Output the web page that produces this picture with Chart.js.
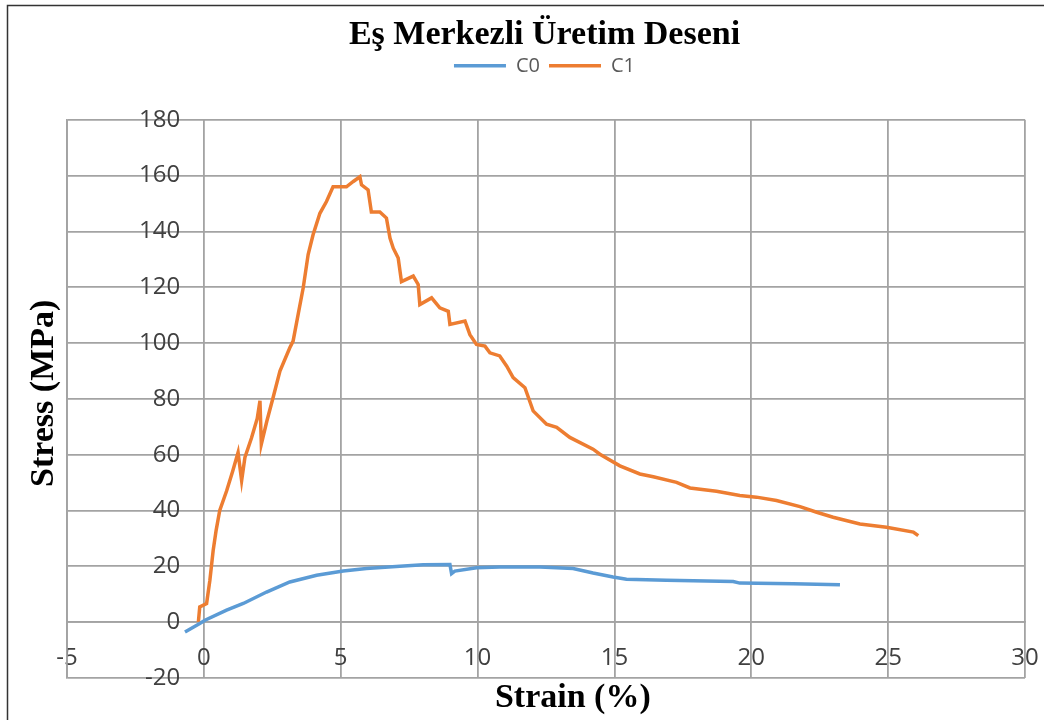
<!DOCTYPE html>
<html>
<head>
<meta charset="utf-8">
<script src="https://cdn.jsdelivr.net/npm/chart.js@4/dist/chart.umd.min.js"></script>
<style>
  html, body { margin: 0; padding: 0; background: #fff; }
  #wrap { width: 1044px; height: 720px; position: relative; }
</style>
</head>
<body>
<div id="wrap"><canvas id="stressChart"></canvas></div>
<script>
// Eş Merkezli Üretim Deseni - gerilme / uzama eğrileri
const chartTitle = 'Eş Merkezli Üretim Deseni';
const xTitle = 'Strain (%)';
const yTitle = 'Stress (MPa)';
const seriesNames = ['C0', 'C1'];
const seriesColors = ['#5B9BD5', '#ED7D31'];

const xTicks = { min: -5, max: 30, step: 5 };
const yTicks = { min: -20, max: 180, step: 20 };

const c0Strain = [-0.69, -0.15, 0.04, 0.83, 1.44, 2.29, 3.14, 4.12, 5.09, 5.94, 7.16, 8.01, 8.99, 9.05, 9.17,
    9.96, 10.81, 12.28, 13.49, 14.22, 14.95, 15.44, 16.9, 19.34, 19.58, 21.53, 23.24];
const c0Stress = [-3.5, -0.5, 0.7, 4.3, 6.7, 10.8, 14.4, 16.8, 18.3, 19.2, 20, 20.6, 20.7, 17.4, 18.3,
    19.5, 19.8, 19.8, 19.2, 17.6, 16.2, 15.4, 15, 14.6, 14, 13.8, 13.4];

const c1Strain = [-0.2, -0.15, 0.1, 0.22, 0.34, 0.45, 0.58, 0.83, 1.05, 1.25, 1.38, 1.5, 1.74, 1.95, 2.05,
    2.1, 2.3, 2.53, 2.78, 3.14, 3.26, 3.44, 3.63, 3.81, 3.99, 4.24, 4.48, 4.72, 5.21, 5.46, 5.7, 5.76, 6.0,
    6.12, 6.43, 6.67, 6.8, 6.92, 7.1, 7.22, 7.65, 7.83, 7.89, 8.32, 8.62, 8.93, 8.99, 9.54, 9.72, 9.96,
    10.27, 10.45, 10.81, 11.06, 11.3, 11.73, 12.03, 12.52, 12.89, 13.37, 14.22, 14.47, 15.2, 15.93, 16.42,
    17.27, 17.76, 18.73, 19.58, 20.19, 20.92, 21.78, 22.39, 22.99, 23.97, 24.94, 25.92, 26.1];
const c1Stress = [0.1, 5.5, 6.7, 15, 25.7, 33, 40, 47, 54, 60.8, 50.7, 59, 66, 73, 79.3,
    63.8, 72, 80.5, 90, 98.3, 100.7, 110, 119.8, 131.7, 138.8, 146.5, 150.7, 156, 156, 157.9, 159.6, 156.7, 154.9,
    147, 147, 144.8, 137.6, 134, 130.5, 122, 124, 121, 113.8, 116.2, 112.6, 111.4, 106.7, 107.9, 103, 99.5,
    98.9, 96.5, 95.4, 91.8, 87.6, 84, 75.7, 70.9, 69.8, 66.2, 62, 60.2, 56, 53.1, 52.1,
    50.1, 48.1, 46.9, 45.4, 44.8, 43.6, 41.4, 39.4, 37.6, 35.2, 34, 32.3, 31];

function toPoints(xs, ys) {
    return xs.map((x, i) => ({ x: x, y: ys[i] }));
}

const gridColor = '#a3a3a3';
const tickFont = { family: '"Open Sans"', size: 24 };

// boş yer tutucu eksen (sadece boşluk ayırır)
function spacer(axis, position, size) {
    return {
        type: 'linear',
        axis: axis,
        position: position,
        display: true,
        ticks: { display: false },
        grid: { display: false, drawTicks: false },
        border: { display: false },
        afterFit: (scale) => {
            if (axis === 'x') scale.height = size; else scale.width = size;
        }
    };
}

// etiket taşma boşluklarını sıfırla, yerleşimi boşluk eksenleri belirlesin
function noOverflow(scale) {
    scale.paddingTop = 0;
    scale.paddingBottom = 0;
    scale.paddingLeft = 0;
    scale.paddingRight = 0;
}

// eksen başlıkları ve dış çerçeve
const axisTitles = {
    id: 'axisTitles',
    beforeDraw(chart) {
        const ctx = chart.ctx;
        ctx.save();
        ctx.strokeStyle = '#333';
        ctx.lineWidth = 1.5;
        ctx.beginPath();
        ctx.moveTo(7.5, chart.height);
        ctx.lineTo(7.5, 5.5);
        ctx.lineTo(chart.width, 5.5);
        ctx.stroke();
        ctx.restore();
    },
    afterDraw(chart) {
        const { ctx, chartArea: a } = chart;
        ctx.save();
        ctx.font = 'bold 34px "Liberation Serif"';
        ctx.fillStyle = '#000';
        ctx.textAlign = 'center';
        ctx.textBaseline = 'alphabetic';
        ctx.fillText(xTitle, a.left + (a.right - a.left) * 0.528, a.bottom + 29);
        ctx.translate(a.left - 14, a.top + (a.bottom - a.top) * 0.49);
        ctx.rotate(-Math.PI / 2);
        ctx.fillText(yTitle, 0, 0);
        ctx.restore();
    }
};

const ctx = document.getElementById('stressChart').getContext('2d');
new Chart(ctx, {
    type: 'scatter',
    data: {
        datasets: [{
            label: seriesNames[0],
            data: toPoints(c0Strain, c0Stress),
            borderColor: seriesColors[0],
            backgroundColor: seriesColors[0],
            showLine: true,
            borderWidth: 3.5,
            pointRadius: 0,
            tension: 0
        }, {
            label: seriesNames[1],
            data: toPoints(c1Strain, c1Stress),
            borderColor: seriesColors[1],
            backgroundColor: seriesColors[1],
            showLine: true,
            borderWidth: 3.5,
            pointRadius: 0,
            tension: 0
        }]
    },
    options: {
        responsive: true,
        maintainAspectRatio: false,
        animation: false,
        layout: { padding: { left: 55, right: 10, top: 23, bottom: 0 } },
        scales: {
            x: {
                type: 'linear',
                position: { y: 0 },
                min: xTicks.min,
                max: xTicks.max,
                ticks: { stepSize: xTicks.step, padding: 22, color: '#404040', font: tickFont },
                grid: { color: gridColor, lineWidth: 1.8, drawTicks: false },
                border: { color: gridColor, width: 1.8 },
                afterFit: (scale) => { scale.height = 0; noOverflow(scale); }
            },
            y: {
                type: 'linear',
                position: 'left',
                min: yTicks.min,
                max: yTicks.max,
                ticks: { stepSize: yTicks.step, mirror: true, crossAlign: 'far', padding: 72, color: '#404040', font: tickFont },
                grid: { color: gridColor, lineWidth: 1.8, drawTicks: false },
                border: { color: gridColor, width: 1.8 },
                afterFit: (scale) => { scale.width = 12; noOverflow(scale); }
            },
            gapTop: spacer('x', 'top', 34),
            gapBottom: spacer('x', 'bottom', 42),
            gapRight: spacer('y', 'right', 9)
        },
        plugins: {
            title: {
                display: true,
                text: chartTitle,
                color: '#000',
                font: { family: '"Liberation Serif"', size: 34, weight: 'bold', lineHeight: 0.7 },
                padding: { top: 0, bottom: 0 }
            },
            legend: {
                display: true,
                position: 'top',
                labels: {
                    usePointStyle: true,
                    pointStyle: 'line',
                    pointStyleWidth: 52,
                    padding: 9,
                    color: '#595959',
                    font: { family: '"Open Sans"', size: 20, lineHeight: 1 }
                }
            },
            tooltip: { enabled: false }
        }
    },
    plugins: [axisTitles]
});
</script>
</body>
</html>
